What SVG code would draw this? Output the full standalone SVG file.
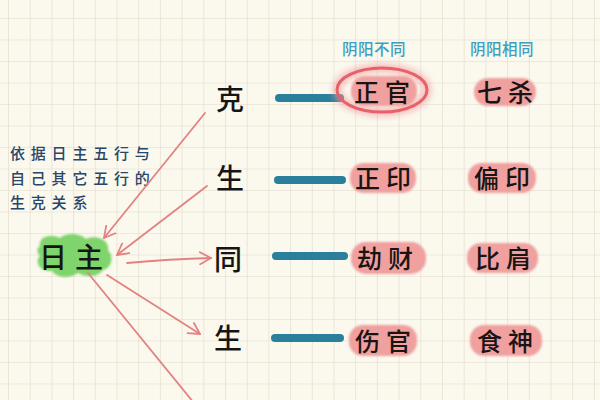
<svg xmlns="http://www.w3.org/2000/svg" width="600" height="400" viewBox="0 0 600 400">
<defs>
<pattern id="grid" x="8" y="18" width="21.7" height="21.5" patternUnits="userSpaceOnUse">
<path d="M0 0 H21.7 M0 0 V21.5" fill="none" stroke="#dfd9ca" stroke-width="1.2"/>
</pattern>
<marker id="head" viewBox="0 0 14 14" refX="12" refY="7" markerWidth="14" markerHeight="14" markerUnits="userSpaceOnUse" orient="auto">
<path d="M1 1 L12 7 L1 13" fill="none" stroke="#e38282" stroke-width="1.8" stroke-linecap="round" stroke-linejoin="round"/>
</marker>
<filter id="soft" x="-20%" y="-20%" width="140%" height="140%">
<feGaussianBlur stdDeviation="1.2"/>
</filter>
<filter id="glow" x="-30%" y="-50%" width="160%" height="200%">
<feGaussianBlur stdDeviation="3"/>
</filter>
</defs>
<style>
.big{font-family:"Noto Sans CJK SC","Noto Sans CJK JP",sans-serif;font-size:28px;fill:#151515;font-weight:500;text-anchor:middle;dominant-baseline:central}
.word{font-family:"Noto Sans CJK SC","Noto Sans CJK JP",sans-serif;font-size:25px;fill:#1a1414;font-weight:500;text-anchor:middle;dominant-baseline:central;letter-spacing:6px}
.head{font-family:"Noto Sans CJK SC","Noto Sans CJK JP",sans-serif;font-size:15.5px;font-weight:500;fill:#3c9ec0;text-anchor:middle;dominant-baseline:central;letter-spacing:0.5px}
.desc{font-family:"Noto Sans CJK SC","Noto Sans CJK JP",sans-serif;font-size:15px;font-weight:500;fill:#27466a;dominant-baseline:central;letter-spacing:5.8px}
.blob{fill:#efa09f;filter:url(#soft)}
.bar{stroke:#2a7f9c;stroke-width:8;stroke-linecap:round}
.arrow{fill:none;stroke:#e38282;stroke-width:1.8;stroke-linecap:round}
</style>
<rect width="600" height="400" fill="#fbf8ee"/>
<rect width="600" height="400" fill="url(#grid)"/>

<g id="headers">
<text class="head" x="374" y="48">阴阳不同</text>
<text class="head" x="502" y="48">阴阳相同</text>
</g>

<g id="desc">
<text class="desc" x="10" y="152">依据日主五行与</text>
<text class="desc" x="10" y="177">自己其它五行的</text>
<text class="desc" x="10" y="201">生克关系</text>
</g>

<g id="rizhu">
<path class="blob" style="fill:#7fd56c" d="M40 246 C38 236 52 234 60 238 C66 232 80 233 86 239 C96 234 110 240 108 250 C114 256 112 268 103 270 C98 278 84 277 78 273 C70 279 56 278 52 271 C40 272 34 262 40 256 C36 252 37 248 40 246 Z"/>
<text class="big" x="75" y="256" style="letter-spacing:8px">日主</text>
</g>

<g id="connectors">
<line class="arrow" x1="205" y1="113" x2="104" y2="238" marker-end="url(#head)"/>
<line class="arrow" x1="207" y1="186" x2="117" y2="255" marker-end="url(#head)"/>
<path class="arrow" d="M127 263 Q170 259 211 258" marker-end="url(#head)"/>
<line class="arrow" x1="107" y1="275" x2="200" y2="334" marker-end="url(#head)"/>
<line class="arrow" x1="88" y1="273" x2="194" y2="403"/>
<line class="bar" x1="279" y1="98" x2="340" y2="98"/>
<line class="bar" x1="278" y1="180" x2="342" y2="180"/>
<line class="bar" x1="276" y1="256" x2="344" y2="256"/>
<line class="bar" x1="275" y1="338" x2="340" y2="338"/>
</g>

<g id="ke">
<text class="big" x="230" y="98">克</text>
</g>
<g id="sheng1">
<text class="big" x="230" y="177">生</text>
</g>
<g id="tong">
<text class="big" x="228" y="258">同</text>
</g>
<g id="sheng2">
<text class="big" x="228" y="337">生</text>
</g>

<g id="zhengguan">
<ellipse cx="382" cy="90" rx="45" ry="22" fill="none" stroke="#f29a9c" stroke-width="8" opacity="0.65" filter="url(#glow)"/>
<rect class="blob" x="351" y="76" width="66" height="30" rx="14"/>
<ellipse cx="382" cy="90" rx="45" ry="22" fill="none" stroke="#e8606a" stroke-width="3"/>
<text class="word" x="385" y="91">正官</text>
</g>
<g id="qisha">
<rect class="blob" x="474" y="78" width="62" height="28" rx="14"/>
<text class="word" x="508" y="91">七杀</text>
</g>
<g id="zhengyin">
<rect class="blob" x="350" y="163" width="66" height="30" rx="14"/>
<text class="word" x="386" y="177">正印</text>
</g>
<g id="pianyin">
<rect class="blob" x="468" y="163" width="68" height="30" rx="14"/>
<text class="word" x="505" y="177">偏印</text>
</g>
<g id="jiecai">
<rect class="blob" x="351" y="242" width="75" height="32" rx="15"/>
<text class="word" x="388" y="257">劫财</text>
</g>
<g id="bijian">
<rect class="blob" x="467" y="243" width="71" height="30" rx="14"/>
<text class="word" x="506" y="257">比肩</text>
</g>
<g id="shangguan">
<rect class="blob" x="349" y="325" width="68" height="31" rx="14"/>
<text class="word" x="386" y="340">伤官</text>
</g>
<g id="shishen">
<rect class="blob" x="470" y="325" width="72" height="31" rx="14"/>
<text class="word" x="508" y="340">食神</text>
</g>
</svg>
